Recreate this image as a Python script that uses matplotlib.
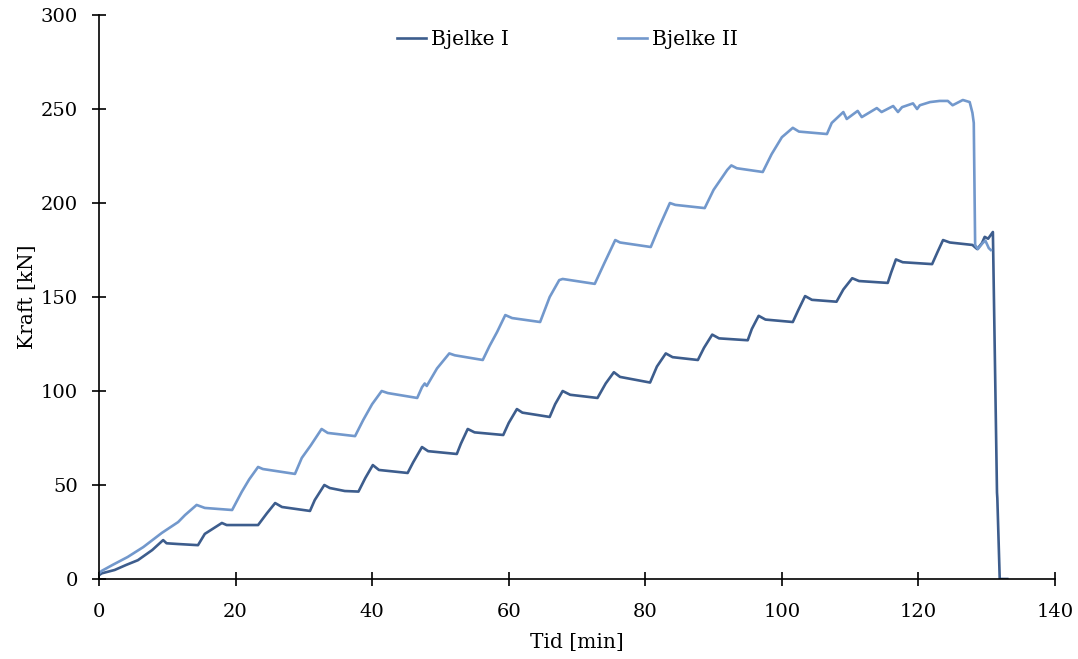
import numpy as np
import matplotlib
matplotlib.use('Agg')
import matplotlib.pyplot as plt

plt.rcParams['font.family'] = ['DejaVu Serif']

# Bjelke I: tid [min], kraft [kN]
tid_1 = [0, 0.4, 2.3, 4.0, 5.7, 7.8, 9.4, 9.9, 11.6, 14.5,
         15.5, 18.0, 18.7, 23.3, 24.6, 25.8, 26.8, 30.9, 31.6, 33.0,
         33.8, 36.0, 38.0, 39.0, 40.1, 41.0, 45.2, 46.0, 47.3, 48.2,
         52.4, 53.0, 54.0, 55.0, 59.2, 60.0, 61.2, 62.0, 66.0, 66.8,
         67.9, 69.0, 73.0, 74.2, 75.4, 76.3, 80.7, 81.7, 83.0, 84.0,
         87.7, 88.6, 89.8, 90.8, 95.0, 95.6, 96.6, 97.6, 101.6, 102.4,
         103.4, 104.4, 108.0, 109.0, 110.3, 111.3, 115.5, 116.0, 116.7, 117.7,
         122.0, 122.8, 123.6, 124.6, 127.9, 128.6, 129.3, 129.7, 130.2, 130.9,
         131.5, 131.55, 131.9, 133.0]
kraft_1 = [2, 3, 4.8, 7.5, 10, 15.4, 20.7, 19, 18.6, 18,
           24, 29.8, 28.7, 28.7, 35, 40.4, 38.3, 36.2, 42, 50,
           48.4, 46.8, 46.5, 53.7, 60.6, 58, 56.4, 62, 70.2, 68,
           66.5, 72, 79.8, 78, 76.6, 83, 90.4, 88.5, 86.2, 93,
           100, 98, 96.3, 104, 110, 107.5, 104.5, 113, 120, 118,
           116.5, 123, 130, 128, 127, 133, 140, 138, 136.7, 143,
           150.5, 148.5, 147.5, 154, 160, 158.5, 157.5, 163, 170, 168.5,
           167.5, 174, 180.3, 179, 177.7, 175.5, 178.7, 182, 181, 184.6,
           46, 43, 0, 0]

# Bjelke II
tid_2 = [0, 0.4, 2.0, 4.2, 6.5, 9.2, 11.6, 12.6, 14.3, 15.5,
         19.5, 20.9, 22.0, 23.3, 24.0, 28.7, 29.7, 31.0, 32.6, 33.5,
         37.5, 38.7, 40.0, 41.4, 42.3, 46.6, 47.3, 47.7, 48.0, 49.5,
         51.3, 52.1, 56.2, 57.2, 58.3, 59.5, 60.5, 64.6, 66.0, 67.4,
         67.9, 72.6, 74.0, 75.6, 76.3, 80.8, 82.0, 83.6, 84.4, 88.7,
         90.0, 92.0, 92.6, 93.4, 97.2, 98.5, 100.0, 101.6, 102.5, 106.6,
         107.3, 109.0, 109.5, 111.1, 111.7, 113.9, 114.6, 116.3, 117.0, 117.6,
         119.2, 119.8, 120.2, 121.7, 123.1, 124.3, 125.0, 126.5, 127.5, 127.9,
         128.1, 128.3, 128.7, 129.4, 129.8, 130.3, 130.6]
kraft_2 = [3, 4.3, 7.5, 11.7, 17, 24.5, 30.3, 34, 39.4, 37.8,
           36.7, 46.3, 53, 59.6, 58.5, 55.9, 64.4, 71, 79.8, 77.7,
           76, 84.6, 93, 100, 98.9, 96.3, 102, 104, 102.7, 112,
           120, 119, 116.5, 124, 131.4, 140.4, 138.8, 136.7, 150, 159,
           159.6, 157, 168, 180.3, 179, 176.6, 187, 200, 199, 197.3,
           207, 217.6, 220, 218.5, 216.5, 226, 235, 240, 238, 236.7,
           242.6, 248.4, 244.7, 249, 245.7, 250.5, 248.4, 251.6, 248.4, 251,
           253, 250, 252, 253.7, 254.3, 254.3, 252, 254.8, 253.7, 248,
           242.6, 177.7, 175.5, 178.7, 180, 176, 175]

fig = plt.figure(figsize=(10.78, 6.59), dpi=100)
ax = fig.add_axes([0.0918, 0.1214, 0.8869, 0.8558])

ax.plot(tid_1, kraft_1, color='#3d5d8d', lw=1.9, label='Bjelke I')
ax.plot(tid_2, kraft_2, color='#7298cc', lw=1.9, label='Bjelke II')

ax.set_xlim(0, 140)
ax.set_ylim(0, 300)
ax.set_xticks(np.arange(0, 141, 20))
ax.set_yticks(np.arange(0, 301, 50))
ax.spines['top'].set_visible(False)
ax.spines['right'].set_visible(False)
for s in ['left', 'bottom']:
    ax.spines[s].set_linewidth(1.2)
ax.tick_params(direction='inout', length=10, width=1.2, labelsize=14)
ax.tick_params(axis='x', pad=12)
ax.tick_params(axis='y', pad=10)

ax.set_xlabel('Tid [min]', fontsize=14.5, labelpad=9)
ax.set_ylabel('Kraft [kN]', fontsize=14.5, labelpad=3)

ax.legend(loc='center', bbox_to_anchor=(0.49, 0.957), ncol=2, frameon=False,
          fontsize=14.5, handlelength=1.45, handletextpad=0.25, columnspacing=5.4)

fig.savefig('out.png', dpi=100)
